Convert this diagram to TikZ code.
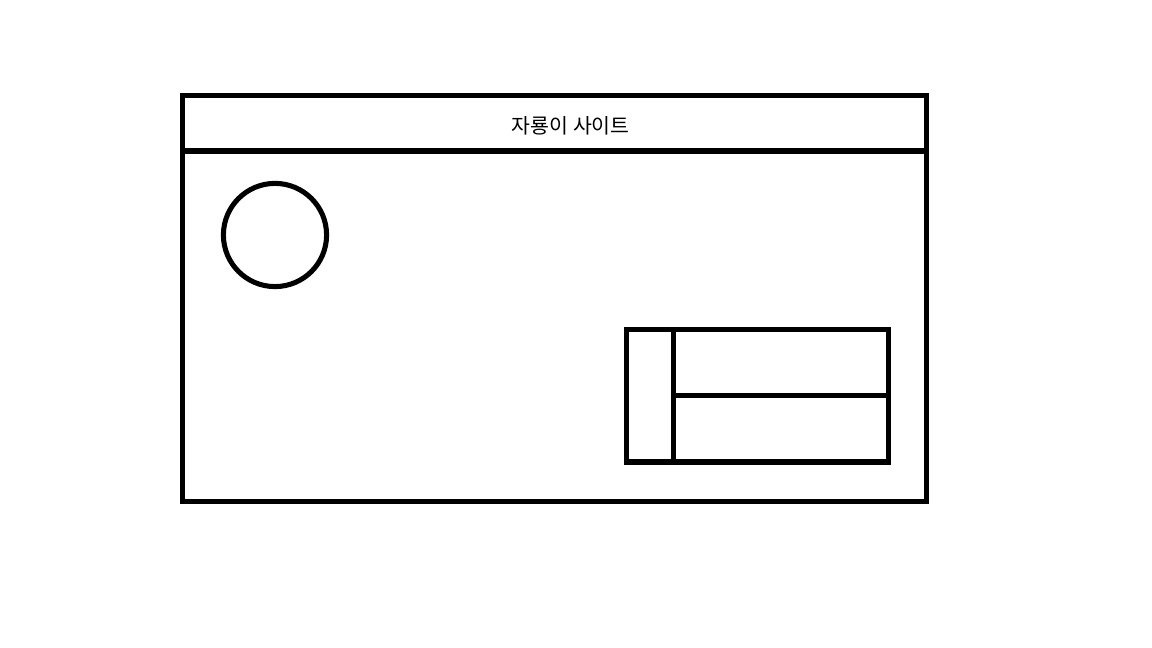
\documentclass[tikz,border=0pt]{standalone}
\usepackage{fontspec}
\newfontfamily\krfont{Noto Sans CJK KR}
\usetikzlibrary{positioning}

\tikzset{
  frame/.style={line width=3.6pt, line join=miter},
  title/.style={font=\krfont\fontsize{14.6pt}{17pt}\selectfont, inner sep=0pt}
}

\begin{document}
\begin{tikzpicture}
\useasboundingbox (0,0) rectangle (28.8,16.2);

% outer window
\coordinate (winNW) at (4.5625,13.8125);
\coordinate (winSE) at (23.1625,3.6625);
\coordinate (hdrW) at (4.5625,12.425);
\coordinate (hdrE) at (23.1625,12.425);

\draw[frame] (winNW) rectangle (winSE);
\draw[frame] (hdrW) -- (hdrE);
\node[title] (site) at (14.27,13.06) {자룡이 사이트};

% logo
\coordinate (logo) at (6.875,10.325);
\draw[frame] (logo) circle (1.29);

% panel
\coordinate (panNW) at (15.66,7.96);
\coordinate (panSE) at (22.21,4.65);
\coordinate (divN) at (16.83,7.96);
\coordinate (divS) at (16.83,4.65);
\coordinate (midW) at (16.83,6.32);
\coordinate (midE) at (22.21,6.32);

\draw[frame] (panNW) rectangle (panSE);
\draw[frame] (divN) -- (divS);
\draw[frame] (midW) -- (midE);
\end{tikzpicture}
\end{document}
